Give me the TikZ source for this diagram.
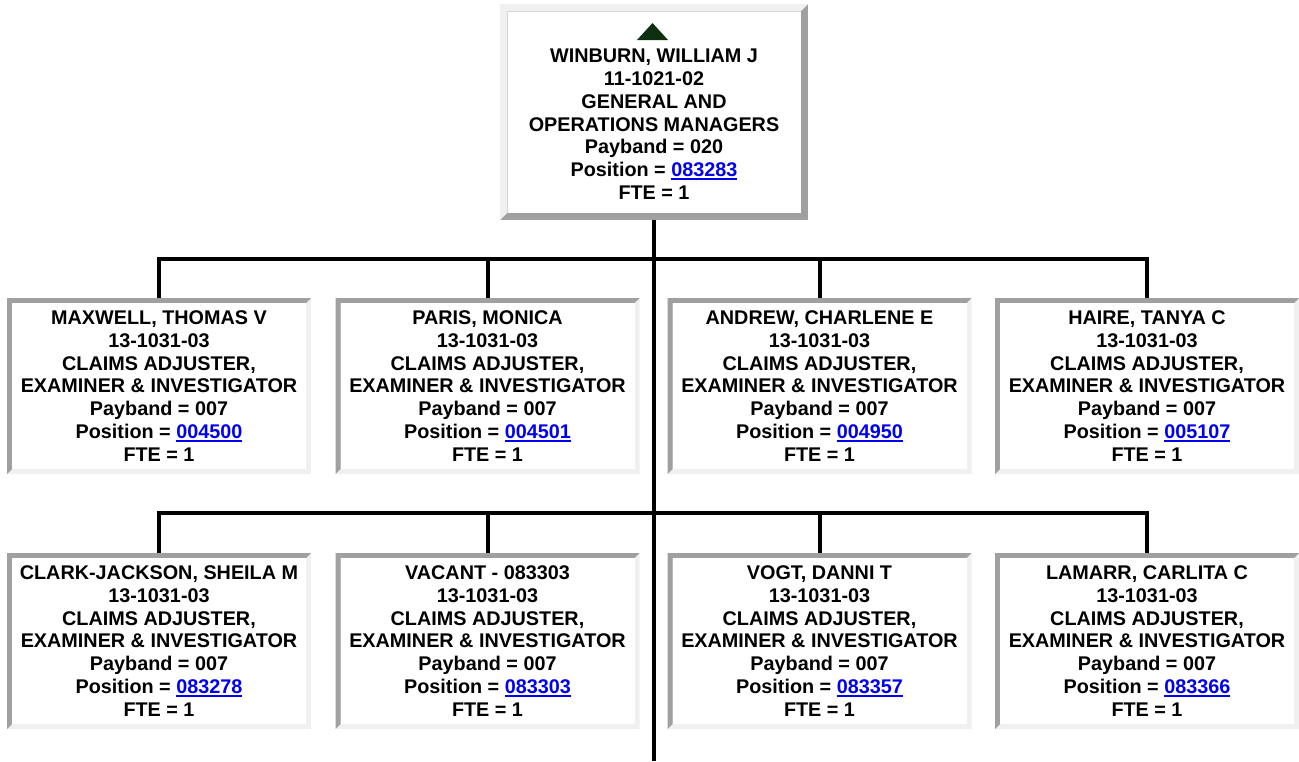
\documentclass[tikz,border=0pt]{standalone}
\usepackage{fontspec}
\setmainfont{Liberation Sans}
\usetikzlibrary{positioning}
\definecolor{edgedark}{RGB}{160,160,160}
\definecolor{edgelight}{RGB}{240,240,240}
\definecolor{linkblue}{RGB}{0,0,238}
\definecolor{upgreen}{RGB}{12,48,16}
\newcommand{\poslink}[1]{{\color{linkblue}\setbox0\hbox{#1}\rlap{\rule[-3pt]{\wd0}{1.8pt}}\box0}}
\tikzset{
  bevel/.style n args={3}{path picture={
      \fill[#2] (path picture bounding box.south west) rectangle (path picture bounding box.north east);
      \fill[#1] (path picture bounding box.south west) -- (path picture bounding box.north west)
        -- (path picture bounding box.north east) -- ([xshift=-#3,yshift=-#3]path picture bounding box.north east)
        -- ([xshift=#3,yshift=-#3]path picture bounding box.north west) -- ([xshift=#3,yshift=#3]path picture bounding box.south west) -- cycle;
      \fill[white] ([xshift=#3,yshift=#3]path picture bounding box.south west) rectangle ([xshift=-#3,yshift=-#3]path picture bounding box.north east);
    }},
  bossbox/.style={bevel={edgelight}{edgedark}{7.5pt}, minimum width=308pt, minimum height=216pt, inner sep=0pt, align=center},
  staffbox/.style={bevel={edgedark}{edgelight}{5pt}, minimum width=304pt, minimum height=176pt, inner sep=0pt, align=center},
  wire/.style={line width=4pt}
}

\begin{document}
\begin{tikzpicture}[x=1pt, y=-1pt, every node/.style={font=\fontsize{19.8}{22.8}\selectfont\bfseries}]
  \useasboundingbox (0,0) rectangle (1299,761);
  \node[bossbox] (boss) at (654,112) {\rule{0pt}{14pt}\\[1.2pt]WINBURN, WILLIAM J\\11-1021-02\\GENERAL AND\\OPERATIONS MANAGERS\\Payband = 020\\Position = \poslink{083283}\\FTE = 1};
  \fill[upgreen] (637,40) -- (668,40) -- (652.5,23) -- cycle;

  % first row
  \node[staffbox] (maxwell) at (159,386) {MAXWELL, THOMAS V\\13-1031-03\\CLAIMS ADJUSTER,\\EXAMINER \& INVESTIGATOR\\Payband = 007\\Position = \poslink{004500}\\FTE = 1};
  \node[staffbox] (paris) at (487.5,386) {PARIS, MONICA\\13-1031-03\\CLAIMS ADJUSTER,\\EXAMINER \& INVESTIGATOR\\Payband = 007\\Position = \poslink{004501}\\FTE = 1};
  \node[staffbox] (andrew) at (819.5,386) {ANDREW, CHARLENE E\\13-1031-03\\CLAIMS ADJUSTER,\\EXAMINER \& INVESTIGATOR\\Payband = 007\\Position = \poslink{004950}\\FTE = 1};
  \node[staffbox] (haire) at (1147,386) {HAIRE, TANYA C\\13-1031-03\\CLAIMS ADJUSTER,\\EXAMINER \& INVESTIGATOR\\Payband = 007\\Position = \poslink{005107}\\FTE = 1};

  % second row
  \node[staffbox] (clark) at (159,641) {CLARK-JACKSON, SHEILA M\\13-1031-03\\CLAIMS ADJUSTER,\\EXAMINER \& INVESTIGATOR\\Payband = 007\\Position = \poslink{083278}\\FTE = 1};
  \node[staffbox] (vacant) at (487.5,641) {VACANT - 083303\\13-1031-03\\CLAIMS ADJUSTER,\\EXAMINER \& INVESTIGATOR\\Payband = 007\\Position = \poslink{083303}\\FTE = 1};
  \node[staffbox] (vogt) at (819.5,641) {VOGT, DANNI T\\13-1031-03\\CLAIMS ADJUSTER,\\EXAMINER \& INVESTIGATOR\\Payband = 007\\Position = \poslink{083357}\\FTE = 1};
  \node[staffbox] (lamarr) at (1147,641) {LAMARR, CARLITA C\\13-1031-03\\CLAIMS ADJUSTER,\\EXAMINER \& INVESTIGATOR\\Payband = 007\\Position = \poslink{083366}\\FTE = 1};

  % connectors
  \coordinate (bar1) at (654,259);
  \coordinate (bar2) at (654,513);
  \coordinate (tail) at (654,761);
  \draw[wire] (boss.south) -- (tail);
  \draw[wire] (maxwell.north) |- (bar1) -| (haire.north);
  \draw[wire] (paris.north) -- (paris.north |- bar1);
  \draw[wire] (andrew.north) -- (andrew.north |- bar1);
  \draw[wire] (clark.north) |- (bar2) -| (lamarr.north);
  \draw[wire] (vacant.north) -- (vacant.north |- bar2);
  \draw[wire] (vogt.north) -- (vogt.north |- bar2);
\end{tikzpicture}
\end{document}
